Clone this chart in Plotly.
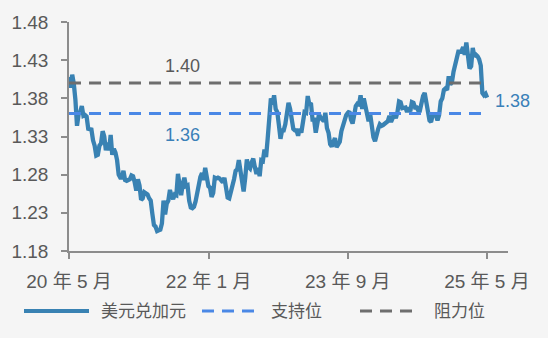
import pandas as pd
import plotly.graph_objects as go

# ---------------- data (weekly) ----------------
start_date = "2020-05-01"
usdcad_2020 = [1.4080, 1.3940, 1.4110, 1.3990, 1.3780,
               1.3440, 1.3590, 1.3620, 1.3700,
               1.3570, 1.3580, 1.3560, 1.3400, 1.3400,
               1.3390, 1.3250, 1.3180, 1.3050,
               1.3060, 1.3180, 1.3210, 1.3370,
               1.3300, 1.3120, 1.3220, 1.3120, 1.3320,
               1.3060, 1.3140, 1.3090, 1.2990,
               1.2800, 1.2760, 1.2760, 1.2850]
usdcad_2021 = [1.2730, 1.2720, 1.2730, 1.2740, 1.2790,
               1.2780, 1.2700, 1.2590, 1.2740,
               1.2660, 1.2470, 1.2490, 1.2570,
               1.2560, 1.2540, 1.2490, 1.2460, 1.2290,
               1.2140, 1.2120, 1.2060, 1.2070,
               1.2080, 1.2160, 1.2460, 1.2280,
               1.2420, 1.2460, 1.2600, 1.2520, 1.2480,
               1.2540, 1.2530, 1.2810, 1.2610,
               1.2530, 1.2680, 1.2760, 1.2650,
               1.2660, 1.2460, 1.2370, 1.2360, 1.2380,
               1.2450, 1.2570, 1.2640, 1.2770,
               1.2820, 1.2730, 1.2890, 1.2800, 1.2650]
usdcad_2022 = [1.2630, 1.2510, 1.2560, 1.2760,
               1.2750, 1.2760, 1.2750, 1.2720,
               1.2700, 1.2760, 1.2600, 1.2500,
               1.2490, 1.2570, 1.2620, 1.2740, 1.2850,
               1.2870, 1.2990, 1.2820, 1.2740,
               1.2580, 1.2760, 1.3000, 1.2900,
               1.2880, 1.2960, 1.3010, 1.2900, 1.2810,
               1.2890, 1.2780, 1.2990, 1.2980,
               1.3130, 1.3030, 1.3270, 1.3570, 1.3800,
               1.3720, 1.3840, 1.3660, 1.3620,
               1.3450, 1.3270, 1.3380, 1.3380,
               1.3460, 1.3630, 1.3740, 1.3660, 1.3550]
usdcad_2023 = [1.3400, 1.3380, 1.3380, 1.3310,
               1.3400, 1.3350, 1.3490, 1.3620,
               1.3610, 1.3830, 1.3720, 1.3740, 1.3520,
               1.3520, 1.3350, 1.3500, 1.3590,
               1.3550, 1.3530, 1.3500, 1.3610,
               1.3410, 1.3350, 1.3200, 1.3170, 1.3250,
               1.3280, 1.3160, 1.3200, 1.3230,
               1.3370, 1.3460, 1.3550, 1.3580,
               1.3610, 1.3630, 1.3520, 1.3470, 1.3580,
               1.3700, 1.3730, 1.3720, 1.3840,
               1.3660, 1.3800, 1.3710, 1.3630,
               1.3500, 1.3590, 1.3400, 1.3290, 1.3240]
usdcad_2024 = [1.3360, 1.3400, 1.3460, 1.3440,
               1.3450, 1.3470, 1.3490, 1.3500,
               1.3570, 1.3490, 1.3540, 1.3590, 1.3540,
               1.3620, 1.3760, 1.3750, 1.3670,
               1.3670, 1.3680, 1.3620, 1.3680, 1.3630,
               1.3750, 1.3740, 1.3680, 1.3680,
               1.3640, 1.3640, 1.3740, 1.3830,
               1.3870, 1.3730, 1.3660, 1.3510, 1.3490,
               1.3580, 1.3580, 1.3580, 1.3510,
               1.3580, 1.3760, 1.3800, 1.3910,
               1.3930, 1.3910, 1.4090, 1.3980, 1.4010,
               1.4150, 1.4230, 1.4360, 1.4410]
usdcad_2025 = [1.4410, 1.4420, 1.4470, 1.4370, 1.4530,
               1.4300, 1.4190, 1.4220, 1.4460,
               1.4350, 1.4370, 1.4350, 1.4310,
               1.4230, 1.3870, 1.3840, 1.3860,
               1.3810]
usdcad = usdcad_2020 + usdcad_2021 + usdcad_2022 + usdcad_2023 + usdcad_2024 + usdcad_2025
dates = pd.date_range(start_date, periods=len(usdcad), freq="7D")

support_level = 1.36
resistance_level = 1.40
last_label = "1.38"

series_names = ["美元兑加元", "支持位", "阻力位"]
tick_dates = ["2020-05-01", "2022-01-01", "2023-09-01", "2025-05-01"]
tick_labels = ["20 年 5 月", "22 年 1 月", "23 年 9 月", "25 年 5 月"]
y_ticks = [1.18, 1.23, 1.28, 1.33, 1.38, 1.43, 1.48]

# ---------------- styles ----------------
FONT = "Liberation Sans, Arial, Noto Sans CJK SC, sans-serif"
BG = "#F5F5F5"
TXT = "#595959"
AXIS = "#8C8C8C"
C_LINE = "#3982B3"
C_SUP = "#4A88E6"
C_RES = "#6E6E6E"
C_LBL = "#3A80B8"
DASH = "12px,8px"

W, H = 548, 338
L, R, T, B = 69, 40, 22, 87
pw, ph = W - L - R, H - T - B

def px_x(x):
    return (x - L) / pw

def px_y(y):
    return (H - B - y) / ph

fig = go.Figure()
fig.add_trace(go.Scatter(x=dates, y=usdcad, mode="lines", name=series_names[0],
                         line=dict(color=C_LINE, width=4.3), showlegend=False))
fig.add_trace(go.Scatter(x=[dates[0], dates[-1]], y=[support_level, support_level],
                         mode="lines", name=series_names[1],
                         line=dict(color=C_SUP, width=3, dash=DASH), showlegend=False))
fig.add_trace(go.Scatter(x=[dates[0], dates[-1]], y=[resistance_level, resistance_level],
                         mode="lines", name=series_names[2],
                         line=dict(color=C_RES, width=3, dash=DASH), showlegend=False))

annotations = [
    dict(x="2021-09-10", y=resistance_level, text=f"{resistance_level:.2f}", showarrow=False,
         yshift=17, font=dict(size=18, color=TXT, family=FONT)),
    dict(x="2021-09-10", y=support_level, text=f"{support_level:.2f}", showarrow=False,
         yshift=-21, font=dict(size=18, color=C_LBL, family=FONT)),
    dict(x=dates[-1], y=usdcad[-1], text=last_label, showarrow=False, xanchor="left",
         xshift=6, yshift=-3, font=dict(size=18, color=C_LBL, family=FONT)),
]

# manual legend (long sample lines as in the reference)
leg_y = 311
leg_items = [(24, 89, 99, C_LINE, "solid", 4), (202, 258, 269, C_SUP, "dash", 3),
             (360, 416, 432, C_RES, "dash", 3)]
shapes = []
for (x0, x1, xt, col, dsh, wd), name in zip(leg_items, series_names):
    shapes.append(dict(type="line", xref="paper", yref="paper",
                       x0=px_x(x0), x1=px_x(x1), y0=px_y(leg_y), y1=px_y(leg_y),
                       line=dict(color=col, width=wd, dash=DASH if dsh == "dash" else "solid")))
    annotations.append(dict(xref="paper", yref="paper", x=px_x(xt), y=px_y(leg_y),
                            text=name, showarrow=False, xanchor="left", yanchor="middle",
                            font=dict(size=17, color=TXT, family=FONT)))

fig.update_layout(
    width=W, height=H,
    margin=dict(l=L, r=R, t=T, b=B),
    paper_bgcolor=BG, plot_bgcolor=BG,
    font=dict(family=FONT, size=18, color=TXT),
    showlegend=False,
    annotations=annotations,
    shapes=shapes,
    xaxis=dict(type="date", range=["2020-05-01", "2025-08-01"],
               tickmode="array", tickvals=tick_dates, ticktext=tick_labels,
               showgrid=False, zeroline=False, showline=True, linecolor=AXIS, linewidth=1.5,
               ticks="outside", ticklen=6, tickcolor=AXIS, tickwidth=1.5,
               ticklabelstandoff=6,
               tickfont=dict(size=19, color=TXT, family=FONT)),
    yaxis=dict(range=[1.18, 1.48], tickmode="array", tickvals=y_ticks,
               ticktext=[f"{v:.2f}" for v in y_ticks],
               showgrid=False, zeroline=False, showline=True, linecolor=AXIS, linewidth=1.5,
               ticks="outside", ticklen=6, tickcolor=AXIS, tickwidth=1.5,
               ticklabelstandoff=9,
               tickfont=dict(size=19, color=TXT, family=FONT)),
)

fig.write_html("out.html")
